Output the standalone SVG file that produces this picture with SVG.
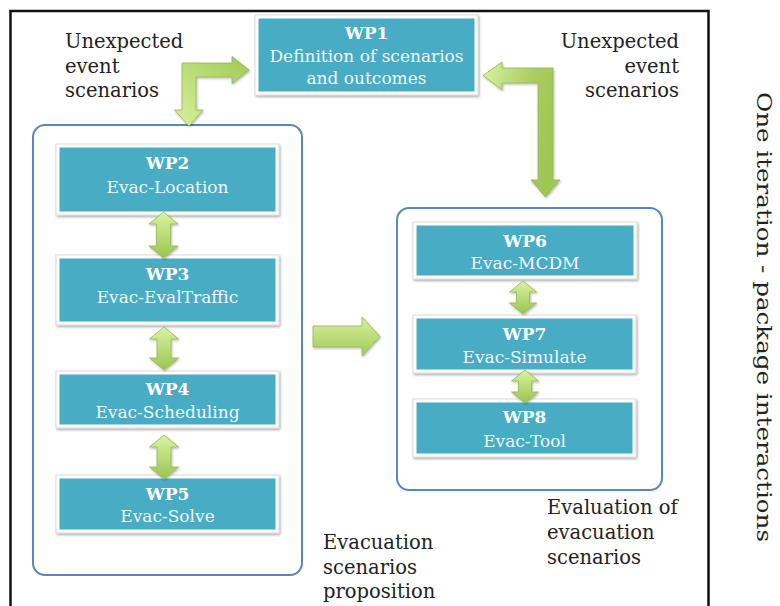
<svg xmlns="http://www.w3.org/2000/svg" width="780" height="606" viewBox="0 0 780 606">
  <defs>
    <style>
      .lbl { font-family: "DejaVu Serif", "Liberation Serif", serif; font-size: 19.5px; fill: #222222; }
      .wp { font-family: "DejaVu Serif", "Liberation Serif", serif; font-size: 17px; font-weight: bold; fill: #ffffff; text-anchor: middle; }
      .sub { font-family: "DejaVu Serif", "Liberation Serif", serif; font-size: 17px; fill: #eef7fa; text-anchor: middle; }
      .frame { fill: #ffffff; stroke: #d4d4d4; stroke-width: 0.8; }
      .teal { fill: #4aacc5; }
      .group { fill: none; stroke: #5b86bd; stroke-width: 2; }
      .arrow { stroke: #93b850; stroke-width: 0.8; stroke-linejoin: miter; }
    </style>
    <filter id="shadow" x="-10%" y="-10%" width="125%" height="130%">
      <feDropShadow dx="1" dy="1.5" stdDeviation="1.2" flood-color="#000" flood-opacity="0.35"/>
    </filter>
    <filter id="ashadow" x="-20%" y="-20%" width="150%" height="150%">
      <feDropShadow dx="0.8" dy="1.2" stdDeviation="0.9" flood-color="#000" flood-opacity="0.3"/>
    </filter>
    <linearGradient id="gV" x1="0" y1="0" x2="0" y2="1">
      <stop offset="0" stop-color="#d9f3a2"/>
      <stop offset="1" stop-color="#9cc44f"/>
    </linearGradient>
    <linearGradient id="gLeft" x1="1" y1="0" x2="0" y2="1">
      <stop offset="0" stop-color="#a2c857"/>
      <stop offset="1" stop-color="#d6f19a"/>
    </linearGradient>
    <linearGradient id="gRight" x1="0" y1="0" x2="1" y2="0.4">
      <stop offset="0" stop-color="#d8f2a0"/>
      <stop offset="0.6" stop-color="#a9cd60"/>
      <stop offset="1" stop-color="#9ec653"/>
    </linearGradient>
    <linearGradient id="gH" x1="0" y1="0" x2="0" y2="1">
      <stop offset="0" stop-color="#d6f19c"/>
      <stop offset="1" stop-color="#a3c95a"/>
    </linearGradient>
  </defs>

  <rect width="780" height="606" fill="#ffffff"/>

  <!-- outer frame, open at the bottom edge -->
  <path d="M10.5,612 V11 H708.5 V612" fill="none" stroke="#111111" stroke-width="2.5"/>

  <!-- group containers -->
  <rect class="group" x="33" y="125" width="269" height="450" rx="12"/>
  <rect class="group" x="397" y="208" width="265" height="282" rx="12"/>

  <!-- free labels -->
  <g id="labels">
    <text class="lbl" x="65" y="48">Unexpected</text>
    <text class="lbl" x="65" y="73">event</text>
    <text class="lbl" x="65" y="97">scenarios</text>
    <text class="lbl" x="679" y="48" text-anchor="end">Unexpected</text>
    <text class="lbl" x="679" y="73" text-anchor="end">event</text>
    <text class="lbl" x="679" y="97" text-anchor="end">scenarios</text>
    <text class="lbl" x="323" y="549">Evacuation</text>
    <text class="lbl" x="323" y="574">scenarios</text>
    <text class="lbl" x="323" y="598">proposition</text>
    <text class="lbl" x="547" y="514">Evaluation of</text>
    <text class="lbl" x="547" y="539">evacuation</text>
    <text class="lbl" x="547" y="564">scenarios</text>
    <text class="lbl" transform="translate(757,92) rotate(90)" font-size="23.5" textLength="450" lengthAdjust="spacingAndGlyphs">One iteration - package interactions</text>
  </g>

  <!-- work package nodes -->
  <g id="wp1" filter="url(#shadow)">
    <rect class="frame" x="255" y="15" width="223" height="80"/>
    <rect class="teal" x="258.5" y="18.5" width="216" height="73"/>
  </g>
  <g id="wp1-text">
    <text class="wp" x="366.5" y="39">WP1</text>
    <text class="sub" x="366.5" y="62">Definition of scenarios</text>
    <text class="sub" x="366.5" y="84">and outcomes</text>
  </g>

  <g id="wp2">
    <g filter="url(#shadow)">
      <rect class="frame" x="56" y="144" width="223" height="71"/>
      <rect class="teal" x="59.5" y="147.5" width="216" height="64"/>
    </g>
    <text class="wp" x="167.5" y="169">WP2</text>
    <text class="sub" x="167.5" y="193">Evac-Location</text>
  </g>

  <g id="wp3">
    <g filter="url(#shadow)">
      <rect class="frame" x="56" y="255" width="223" height="70"/>
      <rect class="teal" x="59.5" y="258.5" width="216" height="63"/>
    </g>
    <text class="wp" x="167.5" y="280">WP3</text>
    <text class="sub" x="167.5" y="303">Evac-EvalTraffic</text>
  </g>

  <g id="wp4">
    <g filter="url(#shadow)">
      <rect class="frame" x="56" y="371" width="223" height="57"/>
      <rect class="teal" x="59.5" y="374.5" width="216" height="50"/>
    </g>
    <text class="wp" x="167.5" y="395">WP4</text>
    <text class="sub" x="167.5" y="418">Evac-Scheduling</text>
  </g>

  <g id="wp5">
    <g filter="url(#shadow)">
      <rect class="frame" x="56" y="475" width="223" height="58"/>
      <rect class="teal" x="59.5" y="478.5" width="216" height="51"/>
    </g>
    <text class="wp" x="167.5" y="500">WP5</text>
    <text class="sub" x="167.5" y="522">Evac-Solve</text>
  </g>

  <g id="wp6">
    <g filter="url(#shadow)">
      <rect class="frame" x="413" y="222" width="224" height="57"/>
      <rect class="teal" x="416.5" y="225.5" width="217" height="50"/>
    </g>
    <text class="wp" x="525" y="247">WP6</text>
    <text class="sub" x="525" y="269">Evac-MCDM</text>
  </g>

  <g id="wp7">
    <g filter="url(#shadow)">
      <rect class="frame" x="413" y="315" width="223" height="58"/>
      <rect class="teal" x="416.5" y="318.5" width="216" height="51"/>
    </g>
    <text class="wp" x="524.5" y="340">WP7</text>
    <text class="sub" x="524.5" y="363">Evac-Simulate</text>
  </g>

  <g id="wp8">
    <g filter="url(#shadow)">
      <rect class="frame" x="413" y="399" width="223" height="58"/>
      <rect class="teal" x="416.5" y="402.5" width="216" height="51"/>
    </g>
    <text class="wp" x="524.5" y="423">WP8</text>
    <text class="sub" x="524.5" y="447">Evac-Tool</text>
  </g>

  <!-- block arrows between packages -->
  <g id="connectors" filter="url(#ashadow)">
    <!-- elbow: left group <-> WP1 -->
    <path class="arrow" fill="url(#gLeft)" d="M189,126 L203,110 L196,110 L196,77 L232,77 L232,83.5 L249,70 L232,56.5 L232,63 L182,63 L182,110 L174.5,110 Z"/>
    <!-- elbow: WP1 <-> right group -->
    <path class="arrow" fill="url(#gRight)" d="M483,75.5 L502,62 L502,68 L553,68 L553,180 L560,180 L545.5,197 L531,180 L538,180 L538,83 L502,83 L502,90 Z"/>
    <!-- proposition -> evaluation -->
    <path class="arrow" fill="url(#gH)" d="M313,326 L362,326 L362,317 L380,336.5 L362,356 L362,347 L313,347 Z"/>
    <!-- double arrows, left column -->
    <path class="arrow" fill="url(#gV)" d="M163.5,212 L178,224 L170.5,224 L170.5,246 L178,246 L163.5,258 L149,246 L156.5,246 L156.5,224 L149,224 Z"/>
    <path class="arrow" fill="url(#gV)" d="M164,327 L178.5,339 L171,339 L171,358 L178.5,358 L164,370 L149.5,358 L157,358 L157,339 L149.5,339 Z"/>
    <path class="arrow" fill="url(#gV)" d="M164,435 L178.5,447 L171,447 L171,467 L178.5,467 L164,479 L149.5,467 L157,467 L157,447 L149.5,447 Z"/>
    <!-- double arrows, right column -->
    <path class="arrow" fill="url(#gV)" d="M523,281 L536.5,292 L529.5,292 L529.5,303 L536.5,303 L523,314 L509.5,303 L516.5,303 L516.5,292 L509.5,292 Z"/>
    <path class="arrow" fill="url(#gV)" d="M525,370 L538.5,381 L531.5,381 L531.5,392 L538.5,392 L525,403 L511.5,392 L518.5,392 L518.5,381 L511.5,381 Z"/>
  </g>
</svg>
